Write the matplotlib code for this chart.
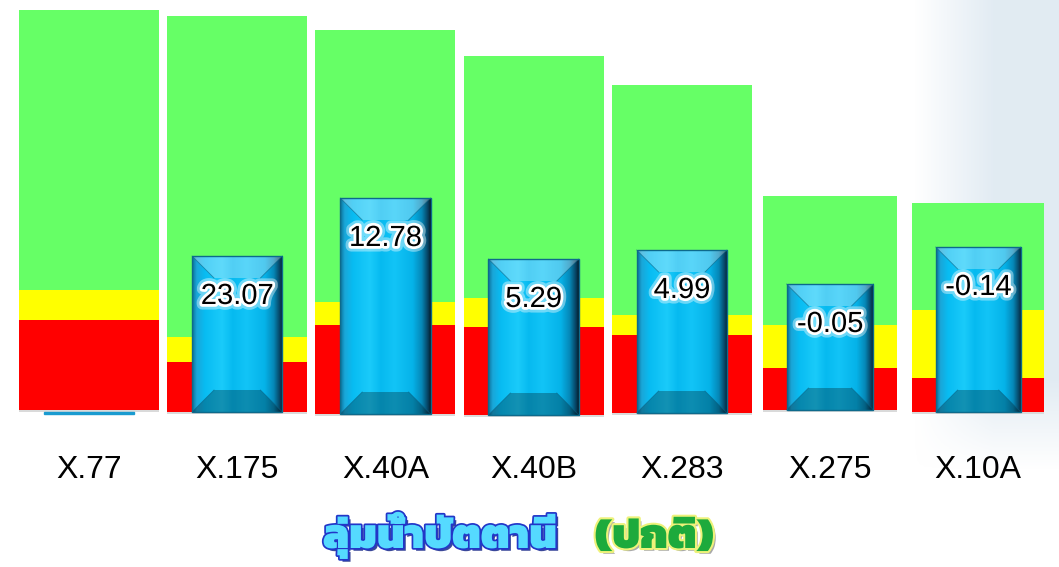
import numpy as np
import matplotlib
matplotlib.use("Agg")
import matplotlib.pyplot as plt
import matplotlib.patheffects as pe
from matplotlib import font_manager
from matplotlib.ft2font import FT2Font
from matplotlib.colors import LinearSegmentedColormap
from matplotlib.patches import Polygon, Rectangle

# gauge readings, in the chart's own drawing units (0 = common base line)
stations = ['X.77', 'X.175', 'X.40A', 'X.40B', 'X.283', 'X.275', 'X.10A']
base = [2, 0, -2, -3, -1, 2, 0]
red_top = [92, 50, 87, 85, 77, 44, 34]
yellow_top = [122, 75, 110, 114, 97, 87, 102]
green_top = [402, 396, 382, 356, 327, 216, 209]
level = [-1, 156, 214, 153, 162, 128, 165]
level_labels = [None, '23.07', '12.78', '5.29', '4.99', '-0.05', '-0.14']

title_main = 'ลุ่มน้ำปัตตานี'
title_note = '(ปกติ)'

W, H = 1059, 567
SPACING = 148.2          # px between bar centres
BEVEL = 22               # px


def find_thai_font():
    found = []
    for f in font_manager.fontManager.ttflist:
        try:
            cmap = FT2Font(f.fname).get_charmap()
        except Exception:
            continue
        if 0x0E25 in cmap and 0x0E33 in cmap:
            found.append(f)
    if not found:
        return None
    found.sort(key=lambda f: (-(f.weight if isinstance(f.weight, int) else 400), f.name))
    return font_manager.FontProperties(fname=found[0].fname)


fig = plt.figure(figsize=(W / 100, H / 100), dpi=100)
ax = fig.add_axes([0, 0, 1, 1])
ax.axis('off')

# faded map texture on the right
xs = np.linspace(0, W, 530)
ys = np.linspace(0, H, 284)
gx, gy = np.meshgrid(xs, ys)
alpha = np.clip((gx - 915) / 80, 0, 1) * np.clip((470 - gy) / 90, 0, 1)
bg = np.zeros((len(ys), len(xs), 4))
bg[..., 0], bg[..., 1], bg[..., 2] = 0.88, 0.92, 0.95
bg[..., 3] = alpha * 0.95
ax.imshow(bg, extent=(0, 1, 0, 1), transform=ax.transAxes, aspect='auto',
          zorder=0, origin='upper')

x = np.arange(len(stations))
bar_w = np.array([0.945] * 5 + [0.91, 0.89])
box_w = bar_w * 0.645
base_a = np.array(base)

ax.bar(x, np.array(red_top) - base_a, bottom=base_a, width=bar_w, color='#FF0000', zorder=1)
ax.bar(x, np.array(yellow_top) - np.array(red_top), bottom=red_top, width=bar_w, color='#FFFF00', zorder=1)
ax.bar(x, np.array(green_top) - np.array(yellow_top), bottom=yellow_top, width=bar_w, color='#66FF66', zorder=1)
ax.bar(x, -2, bottom=base_a, width=bar_w, color='#DADADA', zorder=1)

face_cmap = LinearSegmentedColormap.from_list('face', [
    (0.0, '#0B6E95'), (0.05, '#1AA6D8'), (0.14, '#08BCF2'), (0.33, '#1ACBFA'),
    (0.45, '#06BAF0'), (0.6, '#12C4F7'), (0.8, '#05B3E9'), (0.9, '#0588B8'),
    (0.97, '#07405F'), (1.0, '#031C2A')])
grad = np.linspace(0, 1, 256).reshape(1, -1)

dx = BEVEL / SPACING
for i in range(len(stations)):
    x0, x1 = x[i] - box_w[i] / 2, x[i] + box_w[i] / 2
    b, t = min(base[i], level[i]), max(base[i], level[i])
    if t - b < 2 * BEVEL:
        ax.add_patch(Rectangle((x0, level[i] - 1), x1 - x0, 2.5, color='#1A9BD0', zorder=3))
        continue
    ax.imshow(grad, cmap=face_cmap, extent=(x0, x1, b, t), aspect='auto',
              zorder=3, interpolation='bilinear')
    top = [(x0, t), (x1, t), (x1 - dx, t - BEVEL), (x0 + dx, t - BEVEL)]
    bot = [(x0, b), (x1, b), (x1 - dx, b + BEVEL), (x0 + dx, b + BEVEL)]
    ax.add_patch(Polygon(top, closed=True, facecolor='white', alpha=0.3, lw=0, zorder=4))
    ax.add_patch(Polygon(bot, closed=True, facecolor='black', alpha=0.28, lw=0, zorder=4))
    for a, c in [((x0, t), (x0 + dx, t - BEVEL)), ((x1, t), (x1 - dx, t - BEVEL)),
                 ((x0, b), (x0 + dx, b + BEVEL)), ((x1, b), (x1 - dx, b + BEVEL))]:
        ax.plot([a[0], c[0]], [a[1], c[1]], color='#0A5F80', lw=0.6, alpha=0.6, zorder=4)
    ax.add_patch(Rectangle((x0, b), x1 - x0, t - b, fill=False, edgecolor='#0D6A8C', lw=1, zorder=5))
    if level_labels[i]:
        ax.text(x[i], level[i] - 40, level_labels[i], ha='center', va='center',
                fontsize=21, color='black', zorder=6,
                family=['Liberation Sans Narrow', 'Liberation Sans', 'DejaVu Sans'],
                path_effects=[pe.withStroke(linewidth=8, foreground='white', alpha=0.4),
                              pe.withStroke(linewidth=4, foreground='white')])

for i, name in enumerate(stations):
    ax.text(x[i], -58, name, ha='center', va='center', fontsize=23,
            family=['Liberation Sans', 'DejaVu Sans'], color='black', zorder=6)

ax.set_xlim(-89 / SPACING, (W - 89) / SPACING)
ax.set_ylim(-(H - 412), 412)

# title
thai = find_thai_font()
if thai is None:
    thai = font_manager.FontProperties(family='DejaVu Sans')
thai.set_size(36)
t1 = fig.text(323 / W, 1 - 548 / H, title_main, fontproperties=thai, color='#55DAFF',
              ha='left', va='baseline',
              path_effects=[pe.withSimplePatchShadow(offset=(2, -2), shadow_rgbFace='#0A1A80', alpha=0.8),
                            pe.withStroke(linewidth=2.5, foreground='#2236C8')])
thai2 = thai.copy()
t2 = fig.text(595 / W, 1 - 548 / H, title_note, fontproperties=thai2, color='#1DAA3C',
              ha='left', va='baseline',
              path_effects=[pe.withSimplePatchShadow(offset=(2, -2), shadow_rgbFace='#555555', alpha=0.5),
                            pe.withStroke(linewidth=3, foreground='#EEF27A')])
fig.canvas.draw()
r = fig.canvas.get_renderer()
w1 = t1.get_window_extent(r).width
if w1 > 0:
    size = 36 * 234 / w1
    t1.set_fontsize(size)
    t2.set_fontsize(size)

fig.savefig('out.png', dpi=100)
